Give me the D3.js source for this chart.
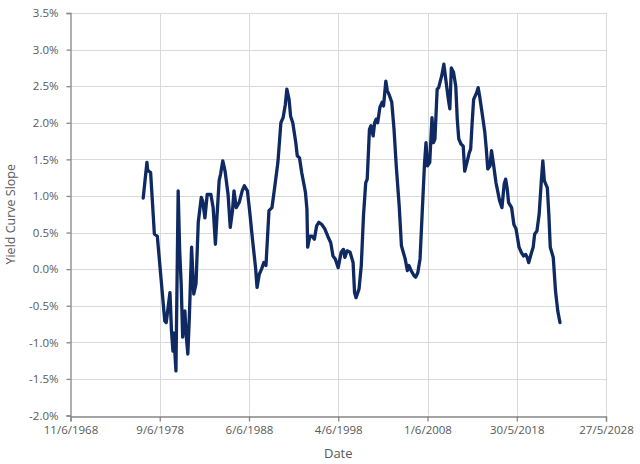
<!DOCTYPE html>
<html>
<head>
<meta charset="utf-8">
<script src="https://cdn.jsdelivr.net/npm/d3@7"></script>
<style>
  html, body { margin: 0; padding: 0; background: #fff; }
  svg { display: block; font-family: "Open Sans", "Noto Sans", sans-serif; }
</style>
</head>
<body>
<svg id="chart" width="640" height="464"></svg>
<script>
// ---- Data ----
const dates = [
  "1976-08","1977-01","1977-02","1977-06","1977-11","1978-03","1979-01","1979-03","1979-08","1979-10",
  "1979-12","1980-01","1980-04","1980-07","1980-09","1980-11","1981-01","1981-04","1981-06","1981-08",
  "1981-10","1982-01","1982-04","1982-07","1982-10","1983-02","1983-04","1983-07","1983-10","1984-03",
  "1984-06","1984-09","1984-11","1985-02","1985-04","1985-07","1985-10","1986-02","1986-05","1986-08",
  "1986-10","1987-01","1987-05","1987-09","1987-12","1988-04","1988-07","1988-11","1989-03","1989-05",
  "1989-08","1989-11","1990-02","1990-05","1990-09","1991-01","1991-05","1991-09","1992-01","1992-04",
  "1992-07","1992-09","1992-12","1993-02","1993-05","1993-09","1993-11","1994-02","1994-05","1994-10",
  "1994-12","1995-01","1995-04","1995-07","1995-10","1996-01","1996-04","1996-08","1996-12","1997-04",
  "1997-08","1997-11","1998-02","1998-06","1998-10","1999-01","1999-03","1999-06","1999-10","2000-02",
  "2000-04","2000-06","2000-10","2001-01","2001-04","2001-07","2001-09","2001-12","2002-02","2002-05",
  "2002-07","2002-09","2002-11","2003-02","2003-05","2003-07","2003-10","2003-12","2004-03","2004-06",
  "2004-09","2004-12","2005-04","2005-07","2005-12","2006-03","2006-05","2006-08","2006-12","2007-02",
  "2007-05","2007-08","2007-11","2008-02","2008-04","2008-06","2008-09","2008-12","2009-02","2009-04",
  "2009-07","2009-09","2010-01","2010-04","2010-06","2010-10","2010-12","2011-02","2011-05","2011-08",
  "2011-10","2011-12","2012-03","2012-06","2012-08","2012-11","2013-02","2013-04","2013-06","2013-08",
  "2013-12","2014-02","2014-04","2014-08","2014-11","2015-01","2015-03","2015-06","2015-08","2015-11",
  "2016-02","2016-07","2016-10","2017-01","2017-03","2017-05","2017-07","2017-11","2018-02","2018-05",
  "2018-09","2018-12","2019-03","2019-06","2019-08","2019-10","2020-01","2020-04","2020-06","2020-09",
  "2020-12","2021-03","2021-05","2021-07","2021-11","2022-01","2022-03","2022-07","2022-10","2023-01",
  "2023-04"
];
const slope = [
  0.97,1.46,1.35,1.32,0.48,0.45,-0.71,-0.73,-0.32,-0.84,
  -1.12,-0.87,-1.39,1.07,0.25,-0.20,-0.93,-0.57,-0.93,-1.16,
  -0.66,0.30,-0.34,-0.20,0.64,0.98,0.93,0.70,1.02,1.02,
  0.84,0.34,0.70,1.21,1.30,1.48,1.34,1.02,0.57,0.80,
  1.07,0.84,0.91,1.07,1.14,1.07,0.80,0.39,0.02,-0.25,
  -0.07,0.00,0.09,0.05,0.80,0.84,1.14,1.46,2.00,2.07,
  2.25,2.46,2.32,2.09,2.00,1.73,1.55,1.52,1.32,1.05,
  0.82,0.30,0.45,0.45,0.41,0.59,0.64,0.61,0.55,0.45,
  0.36,0.18,0.14,0.02,0.23,0.27,0.16,0.25,0.23,0.09,
  -0.32,-0.39,-0.27,0.05,0.73,1.18,1.23,1.91,1.96,1.82,
  2.00,2.05,2.00,2.21,2.28,2.23,2.57,2.44,2.37,2.28,
  1.91,1.41,0.86,0.32,0.14,-0.02,0.05,-0.02,-0.09,-0.11,
  -0.05,0.14,0.80,1.45,1.73,1.41,1.46,2.07,1.73,1.78,
  2.46,2.48,2.64,2.80,2.64,2.32,2.19,2.75,2.69,2.50,
  2.05,1.78,1.71,1.68,1.34,1.46,1.59,1.64,2.00,2.32,
  2.41,2.48,2.37,2.09,1.87,1.64,1.37,1.41,1.62,1.41,
  1.18,0.93,0.84,1.16,1.23,1.11,0.91,0.84,0.61,0.55,
  0.30,0.23,0.18,0.20,0.16,0.09,0.20,0.30,0.48,0.52,
  0.75,1.21,1.48,1.21,1.11,0.75,0.30,0.16,-0.30,-0.57,
  -0.73
];
const xTickLabels = ["11/6/1968","9/6/1978","6/6/1988","4/6/1998","1/6/2008","30/5/2018","27/5/2028"];
const yTicks = [-2.0,-1.5,-1.0,-0.5,0.0,0.5,1.0,1.5,2.0,2.5,3.0,3.5];

(function () {
  // ---- Layout ----
  const svg = d3.select("#chart");
  const pLeft = 70.5, pRight = 606, pTop = 13, pBottom = 415.5;

  const parse = d3.timeParse("%Y-%m");
  const parseDMY = d3.timeParse("%d/%m/%Y");
  const tickDates = xTickLabels.map(s => parseDMY(s));
  const data = dates.map((d, i) => ({ date: parse(d), v: slope[i] }));

  const x = d3.scaleTime()
    .domain([tickDates[0], tickDates[tickDates.length - 1]])
    .range([pLeft, pRight]);
  const y = d3.scaleLinear().domain([-2.0, 3.5]).range([pBottom, pTop]);

  const gridColor = "#d9d9d9";
  const axisColor = "#868686";
  const textColor = "#595959";

  // Gridlines
  svg.append("g").selectAll("line").data(yTicks.slice(1)).join("line")
    .attr("x1", pLeft).attr("x2", pRight)
    .attr("y1", d => Math.round(y(d)) + 0.5).attr("y2", d => Math.round(y(d)) + 0.5)
    .attr("stroke", gridColor).attr("stroke-width", 1);
  svg.append("g").selectAll("line").data(tickDates.slice(1)).join("line")
    .attr("x1", d => Math.round(x(d)) + 0.5).attr("x2", d => Math.round(x(d)) + 0.5)
    .attr("y1", pTop).attr("y2", pBottom)
    .attr("stroke", gridColor).attr("stroke-width", 1);

  // Axes
  const fmtTick = d3.timeFormat("%-d/%-m/%Y");
  const xAxis = d3.axisBottom(x).tickValues(tickDates).tickFormat(fmtTick).tickSize(5).tickPadding(4);
  const gx = svg.append("g").attr("transform", `translate(0,${Math.round(pBottom) + 0.5})`).call(xAxis);
  gx.select(".domain").attr("stroke", axisColor).attr("stroke-width", 1.3);
  gx.selectAll(".tick line").attr("stroke", axisColor).attr("stroke-width", 1.3);
  gx.selectAll(".tick text").attr("fill", textColor).attr("font-size", 11.5).attr("font-family", "Open Sans, Noto Sans, sans-serif");

  const yAxis = d3.axisLeft(y).tickValues(yTicks).tickFormat(d => d.toFixed(1) + "%").tickSize(4).tickPadding(8);
  const gy = svg.append("g").attr("transform", `translate(${pLeft},0)`).call(yAxis);
  gy.select(".domain").attr("stroke", axisColor).attr("stroke-width", 1.3);
  gy.selectAll(".tick line").attr("stroke", axisColor).attr("stroke-width", 1.3);
  gy.selectAll(".tick text").attr("fill", textColor).attr("font-size", 11.5).attr("font-family", "Open Sans, Noto Sans, sans-serif");

  // Axis titles
  svg.append("text").attr("x", (pLeft + pRight) / 2).attr("y", 458)
    .attr("text-anchor", "middle").attr("fill", textColor).attr("font-size", 13).text("Date");
  svg.append("text").attr("transform", `translate(15,${(pTop + pBottom) / 2}) rotate(-90)`)
    .attr("text-anchor", "middle").attr("fill", textColor).attr("font-size", 12.5).text("Yield Curve Slope");

  // Line
  const line = d3.line().x(d => x(d.date)).y(d => y(d.v));
  svg.append("path").datum(data)
    .attr("d", line)
    .attr("fill", "none")
    .attr("stroke", "#0f2a62")
    .attr("stroke-width", 3.3)
    .attr("stroke-linejoin", "round")
    .attr("stroke-linecap", "round");
})();
</script>
</body>
</html>
